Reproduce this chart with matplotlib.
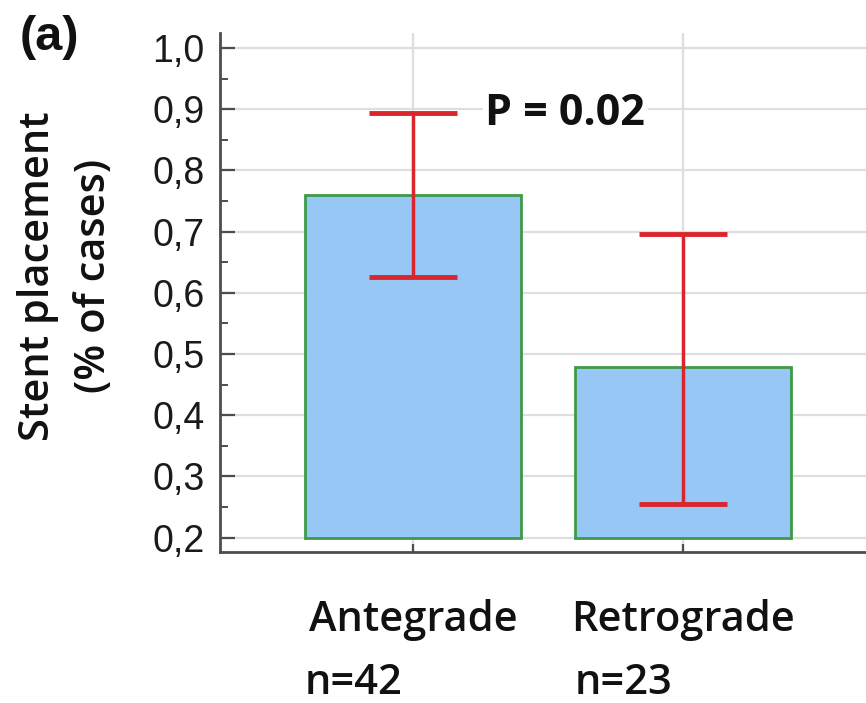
import matplotlib
matplotlib.use('Agg')
import matplotlib.pyplot as plt
from matplotlib.ticker import MultipleLocator, FixedLocator, FixedFormatter
from matplotlib.transforms import blended_transform_factory

# data
groups = ['Antegrade', 'Retrograde']
counts = ['n=42', 'n=23']
means = [0.760, 0.478]
ci_low = [0.626, 0.255]
ci_high = [0.894, 0.696]
yticks = [0.2, 0.3, 0.4, 0.5, 0.6, 0.7, 0.8, 0.9, 1.0]
ytick_labels = ['0,2', '0,3', '0,4', '0,5', '0,6', '0,7', '0,8', '0,9', '1,0']
p_text = 'P = 0.02'

label_font = 'Open Sans'
tick_font = 'Liberation Sans'
grid_col = '#dedede'
spine_col = '#4d4d4d'

fig = plt.figure(figsize=(8.66, 7.03), dpi=100)
ax = fig.add_axes([220 / 866, 1 - 552 / 703, 1 - 220 / 866, (552 - 33) / 703])

x = list(range(len(groups)))
base = 0.2
heights = [m - base for m in means]
ax.bar(x, heights, bottom=base, width=0.8, color='#97c7f5',
       edgecolor='#3d9a48', linewidth=2, zorder=3)

yerr = [[m - lo for m, lo in zip(means, ci_low)],
        [hi - m for m, hi in zip(means, ci_high)]]
ax.errorbar(x, means, yerr=yerr, fmt='none', ecolor='#d8262c',
            elinewidth=2.5, capsize=31.5, capthick=3.5, zorder=4)

ax.set_xlim(-0.715, 1.678)
ax.set_ylim(0.1765, 1.0245)

# axes look
for s in ['top', 'right']:
    ax.spines[s].set_visible(False)
for s in ['left', 'bottom']:
    ax.spines[s].set_color(spine_col)
    ax.spines[s].set_linewidth(2)

ax.yaxis.set_major_locator(FixedLocator(yticks))
ax.yaxis.set_major_formatter(FixedFormatter(ytick_labels))
ax.yaxis.set_minor_locator(MultipleLocator(0.05))
ax.tick_params(axis='y', which='major', direction='in', length=11, width=1.6,
               color=spine_col, pad=11, labelsize=27, labelcolor='#1a1a1a')
ax.tick_params(axis='y', which='minor', direction='in', length=6, width=1.4,
               color=spine_col)
for lab in ax.get_yticklabels():
    lab.set_fontfamily(tick_font)

ax.set_xticks(x)
ax.set_xticklabels(groups, fontfamily=label_font, fontweight='semibold',
                   fontsize=30, color='#111111')
ax.tick_params(axis='x', direction='in', length=6, width=1.6,
               color=spine_col, pad=34)

ax.grid(True, color=grid_col, linewidth=1.6, zorder=0)
ax.set_axisbelow(True)

# sample sizes under the group names
trans = blended_transform_factory(ax.transData, ax.transAxes)
for i, n in enumerate(counts):
    ax.text(i - 0.22, -0.273, n, transform=trans, ha='center', va='baseline',
            fontfamily=label_font, fontweight='semibold', fontsize=30,
            color='#111111')

ax.text(0.267, 0.874, p_text, ha='left', va='baseline',
        fontfamily=label_font, fontweight='bold', fontsize=31,
        color='#111111', zorder=5,
        bbox=dict(facecolor='white', edgecolor='none', pad=2))

fig.text(0.076, 0.607, 'Stent placement\n(% of cases)', rotation=90,
         ha='center', va='center', multialignment='center',
         fontfamily=label_font, fontweight='semibold', fontsize=30,
         linespacing=1.45, color='#111111')

fig.text(0.023, 1 - 50 / 703, '(a)', ha='left', va='baseline',
         fontfamily=tick_font, fontweight='bold', fontsize=35, color='#111111')

fig.savefig('out.png', dpi=100)
